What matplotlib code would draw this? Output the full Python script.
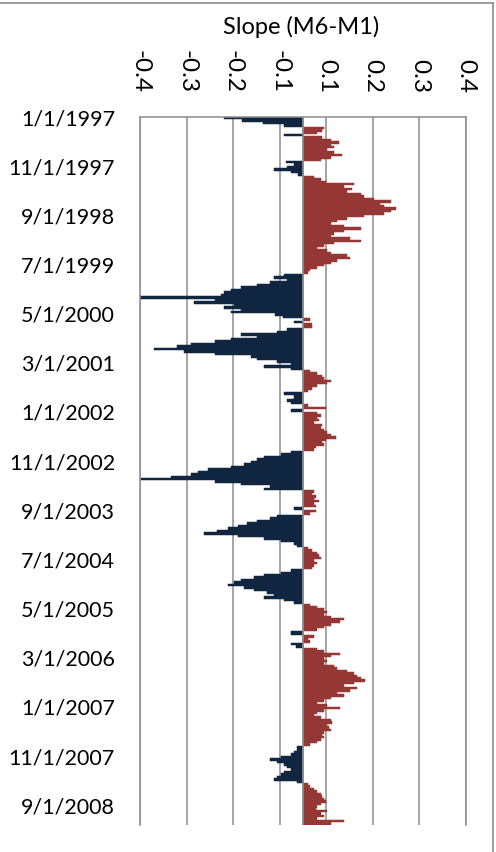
import matplotlib
matplotlib.use("Agg")
import matplotlib.pyplot as plt
import matplotlib.dates as mdates
import numpy as np
import pandas as pd
from matplotlib.lines import Line2D

# ---------------- data ----------------
title = "Slope (M6-M1)"
start_date = "1997-01-01"
end_date = "2009-01-01"

slope_1997 = [-0.17, -0.13, -0.085, -0.04, 0.045, 0.04, 0.03, -0.04, 0.04, 0.06, 0.077, 0.06,
              0.066, 0.052, 0.066, 0.084, 0.06, 0.038, -0.037, -0.02, -0.034, -0.062, -0.026, -0.01]
slope_1998 = [0.024, 0.038, 0.05, 0.11, 0.088, 0.106, 0.095, 0.124, 0.13, 0.152, 0.188, 0.166,
              0.174, 0.2, 0.188, 0.174, 0.13, 0.095, 0.074, 0.06, 0.088, 0.124, 0.088, 0.066]
slope_1999 = [0.06, 0.1, 0.124, 0.066, 0.045, 0.03, 0.052, 0.06, 0.095, 0.1, 0.074, 0.06,
              0.045, 0.03, 0.016, 0.01, -0.04, -0.062, -0.034, -0.07, -0.098, -0.134, -0.155, -0.17]
slope_2000 = [-0.176, -0.355, -0.19, -0.234, -0.148, -0.17, -0.134, -0.155, -0.06, -0.044, 0.016, -0.02,
              0.02, 0.02, -0.034, -0.055, -0.134, -0.098, -0.155, -0.19, -0.24, -0.27, -0.32, -0.255]
slope_2001 = [-0.19, -0.112, -0.098, -0.055, -0.026, -0.084, -0.026, 0.016, 0.03, 0.04, 0.045, 0.06,
              0.052, 0.03, 0.02, 0.01, -0.04, -0.02, -0.02, -0.034, -0.026, 0.01, 0.05, -0.026]
slope_2002 = [0.03, 0.038, 0.03, 0.034, 0.024, 0.04, 0.038, 0.045, 0.052, 0.06, 0.07, 0.05,
              0.04, 0.045, 0.027, 0.024, -0.026, -0.048, -0.084, -0.098, -0.112, -0.126, -0.155, -0.205]
slope_2003 = [-0.226, -0.24, -0.284, -0.348, -0.19, -0.134, -0.07, -0.084, 0.024, 0.02, 0.027, 0.024,
              0.034, 0.024, 0.027, -0.02, 0.027, 0.016, -0.055, -0.07, -0.098, -0.12, -0.14, -0.162]
slope_2004 = [-0.184, -0.212, -0.14, -0.084, -0.048, -0.02, -0.012, 0.01, 0.02, 0.03, 0.034, 0.038,
              0.024, 0.03, 0.024, 0.02, -0.026, -0.048, -0.084, -0.105, -0.134, -0.148, -0.162, -0.126]
slope_2005 = [-0.105, -0.077, -0.062, -0.084, -0.04, -0.02, 0.016, 0.03, 0.045, 0.052, 0.045, 0.06,
              0.088, 0.08, 0.06, 0.045, 0.03, -0.026, -0.026, 0.024, 0.01, 0.016, -0.026, -0.016]
slope_2006 = [0.03, 0.045, 0.08, 0.06, 0.045, 0.052, 0.045, 0.066, 0.074, 0.095, 0.11, 0.116,
              0.124, 0.134, 0.11, 0.088, 0.116, 0.1, 0.074, 0.088, 0.06, 0.045, 0.03, 0.052]
slope_2007 = [0.08, 0.045, 0.03, 0.024, 0.038, 0.06, 0.063, 0.052, 0.056, 0.06, 0.045, 0.04,
              0.045, 0.038, 0.03, 0.016, -0.012, -0.012, -0.02, -0.026, -0.048, -0.07, -0.055, -0.04]
slope_2008 = [-0.034, -0.026, -0.04, -0.048, -0.055, -0.062, -0.012, 0.01, 0.016, 0.024, 0.03, 0.038,
              0.04, 0.045, 0.05, 0.038, 0.03, 0.027, 0.052, 0.038, 0.045, 0.03, 0.088, 0.06]

date_tick_labels = ["1/1/1997", "11/1/1997", "9/1/1998", "7/1/1999", "5/1/2000", "3/1/2001",
                    "1/1/2002", "11/1/2002", "9/1/2003", "7/1/2004", "5/1/2005", "3/1/2006",
                    "1/1/2007", "11/1/2007", "9/1/2008"]
value_ticks = [-0.35, -0.25, -0.15, -0.05, 0.05, 0.15, 0.25, 0.35]
value_tick_labels = ["-0.4", "-0.3", "-0.2", "-0.1", "0.1", "0.2", "0.3", "0.4"]

# ---------------- styles ----------------
pos_color = "#953735"
neg_color = "#10253F"
grid_color = "#8C8C8C"
font = ["Lato", "DejaVu Sans"]

slopes = np.array(slope_1997 + slope_1998 + slope_1999 + slope_2000 + slope_2001 + slope_2002 +
                  slope_2003 + slope_2004 + slope_2005 + slope_2006 + slope_2007 + slope_2008)
dates = pd.date_range(start_date, periods=len(slopes), freq="SMS")
edges = list(dates) + [pd.Timestamp(end_date)]
y0 = mdates.date2num(pd.DatetimeIndex(edges[:-1]).to_pydatetime())
y1 = mdates.date2num(pd.DatetimeIndex(edges[1:]).to_pydatetime())

fig = plt.figure(figsize=(4.96, 8.52), dpi=100)
ax = fig.add_axes([140 / 496, 1 - 825 / 852, (466 - 140) / 496, (825 - 117) / 852])

colors = [pos_color if v >= 0 else neg_color for v in slopes]
ax.barh(y0, slopes, height=y1 - y0, align="edge", color=colors, linewidth=0.35,
        edgecolor=colors, zorder=2)

ax.set_xlim(-0.35, 0.35)
ax.set_ylim(mdates.date2num(pd.Timestamp(end_date)), mdates.date2num(pd.Timestamp(start_date)))

ax.set_xticks(value_ticks)
ax.set_xticklabels(value_tick_labels, rotation=-90, fontsize=17.5, family=font, color="black")
ax.xaxis.tick_top()
ax.tick_params(axis="x", length=0, pad=17)
for lbl in ax.get_xticklabels():
    lbl.set_verticalalignment("bottom")

tick_dates = mdates.date2num(pd.to_datetime(date_tick_labels, format="%m/%d/%Y").to_pydatetime())
ax.set_yticks(tick_dates)
ax.set_yticklabels(date_tick_labels, fontsize=15.5, family=font, color="black")
ax.tick_params(axis="y", length=0, pad=18)

ax.grid(axis="x", color=grid_color, linewidth=1.1, zorder=1)
ax.axvline(0, color=grid_color, linewidth=1.3, zorder=3)
ax.set_axisbelow(True)
for side in ["left", "right", "top"]:
    ax.spines[side].set_color(grid_color)
    ax.spines[side].set_linewidth(1.1)
ax.spines["bottom"].set_visible(False)

fig.text(301 / 496, 1 - 27 / 852, title, ha="center", va="center", fontsize=17, family=font)

# chart border (top and right edges visible)
fig.add_artist(Line2D([0, 492.5 / 496], [1 - 2.5 / 852, 1 - 2.5 / 852], color="#8C8C8C", lw=1.2,
                      transform=fig.transFigure))
fig.add_artist(Line2D([492.5 / 496, 492.5 / 496], [0, 1 - 2.5 / 852], color="#8C8C8C", lw=1.2,
                      transform=fig.transFigure))

fig.savefig("out.png", dpi=100)
